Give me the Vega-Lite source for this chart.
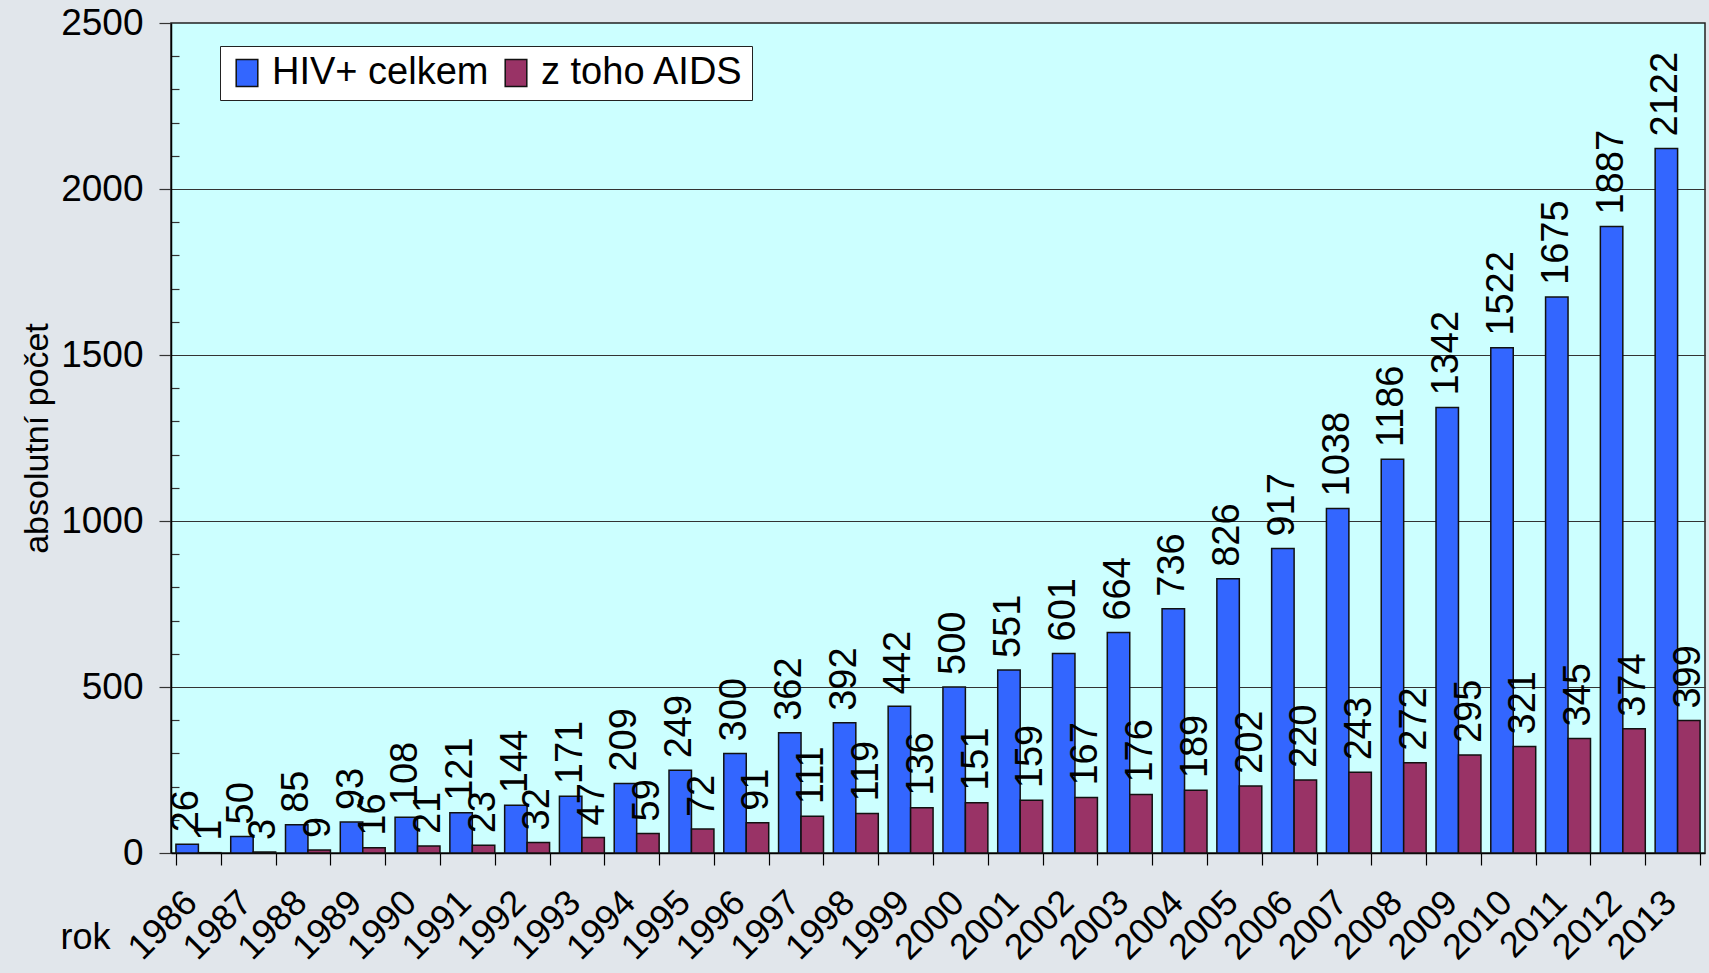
{
  "$schema": "https://vega.github.io/schema/vega-lite/v6.json",
  "width": 1534,
  "height": 830,
  "autosize": {"type": "none"},
  "padding": {"left": 171, "top": 23, "right": 4, "bottom": 120},
  "background": "#e1e6eb",
  "config": {
    "view": {"fill": "#ccffff", "stroke": "#222222", "strokeWidth": 1.5},
    "font": "Liberation Sans"
  },
  "data": {
    "values": [
      {"year": "1986", "series": "HIV+ celkem", "value": 26},
      {"year": "1987", "series": "HIV+ celkem", "value": 50},
      {"year": "1988", "series": "HIV+ celkem", "value": 85},
      {"year": "1989", "series": "HIV+ celkem", "value": 93},
      {"year": "1990", "series": "HIV+ celkem", "value": 108},
      {"year": "1991", "series": "HIV+ celkem", "value": 121},
      {"year": "1992", "series": "HIV+ celkem", "value": 144},
      {"year": "1993", "series": "HIV+ celkem", "value": 171},
      {"year": "1994", "series": "HIV+ celkem", "value": 209},
      {"year": "1995", "series": "HIV+ celkem", "value": 249},
      {"year": "1996", "series": "HIV+ celkem", "value": 300},
      {"year": "1997", "series": "HIV+ celkem", "value": 362},
      {"year": "1998", "series": "HIV+ celkem", "value": 392},
      {"year": "1999", "series": "HIV+ celkem", "value": 442},
      {"year": "2000", "series": "HIV+ celkem", "value": 500},
      {"year": "2001", "series": "HIV+ celkem", "value": 551},
      {"year": "2002", "series": "HIV+ celkem", "value": 601},
      {"year": "2003", "series": "HIV+ celkem", "value": 664},
      {"year": "2004", "series": "HIV+ celkem", "value": 736},
      {"year": "2005", "series": "HIV+ celkem", "value": 826},
      {"year": "2006", "series": "HIV+ celkem", "value": 917},
      {"year": "2007", "series": "HIV+ celkem", "value": 1038},
      {"year": "2008", "series": "HIV+ celkem", "value": 1186},
      {"year": "2009", "series": "HIV+ celkem", "value": 1342},
      {"year": "2010", "series": "HIV+ celkem", "value": 1522},
      {"year": "2011", "series": "HIV+ celkem", "value": 1675},
      {"year": "2012", "series": "HIV+ celkem", "value": 1887},
      {"year": "2013", "series": "HIV+ celkem", "value": 2122},
      {"year": "1986", "series": "z toho AIDS", "value": 1},
      {"year": "1987", "series": "z toho AIDS", "value": 3},
      {"year": "1988", "series": "z toho AIDS", "value": 9},
      {"year": "1989", "series": "z toho AIDS", "value": 16},
      {"year": "1990", "series": "z toho AIDS", "value": 21},
      {"year": "1991", "series": "z toho AIDS", "value": 23},
      {"year": "1992", "series": "z toho AIDS", "value": 32},
      {"year": "1993", "series": "z toho AIDS", "value": 47},
      {"year": "1994", "series": "z toho AIDS", "value": 59},
      {"year": "1995", "series": "z toho AIDS", "value": 72},
      {"year": "1996", "series": "z toho AIDS", "value": 91},
      {"year": "1997", "series": "z toho AIDS", "value": 111},
      {"year": "1998", "series": "z toho AIDS", "value": 119},
      {"year": "1999", "series": "z toho AIDS", "value": 136},
      {"year": "2000", "series": "z toho AIDS", "value": 151},
      {"year": "2001", "series": "z toho AIDS", "value": 159},
      {"year": "2002", "series": "z toho AIDS", "value": 167},
      {"year": "2003", "series": "z toho AIDS", "value": 176},
      {"year": "2004", "series": "z toho AIDS", "value": 189},
      {"year": "2005", "series": "z toho AIDS", "value": 202},
      {"year": "2006", "series": "z toho AIDS", "value": 220},
      {"year": "2007", "series": "z toho AIDS", "value": 243},
      {"year": "2008", "series": "z toho AIDS", "value": 272},
      {"year": "2009", "series": "z toho AIDS", "value": 295},
      {"year": "2010", "series": "z toho AIDS", "value": 321},
      {"year": "2011", "series": "z toho AIDS", "value": 345},
      {"year": "2012", "series": "z toho AIDS", "value": 374},
      {"year": "2013", "series": "z toho AIDS", "value": 399}
    ]
  },
  "encoding": {
    "x": {
      "field": "year",
      "type": "ordinal",
      "scale": {"paddingInner": 0.18, "paddingOuter": 0.09},
      "axis": {
        "title": "rok",
        "titleFontSize": 36,
        "titleFontWeight": "normal",
        "titleColor": "#000000",
        "titleX": -111,
        "titleY": 95,
        "titleAlign": "left",
        "titleBaseline": "alphabetic",
        "titleAngle": 0,
        "labelAngle": -45,
        "labelAlign": "right",
        "labelBaseline": "bottom",
        "labelFontSize": 36,
        "labelColor": "#000000",
        "labelPadding": 45,
        "labelOffset": 6,
        "tickBand": "extent",
        "tickSize": 12,
        "tickColor": "#000000",
        "tickWidth": 1.2,
        "domainColor": "#000000",
        "domainWidth": 1.5,
        "grid": false
      }
    },
    "xOffset": {"field": "series", "sort": ["HIV+ celkem", "z toho AIDS"]},
    "y": {
      "field": "value",
      "type": "quantitative",
      "scale": {"domain": [0, 2500], "nice": false},
      "axis": {
        "title": "absolutní počet",
        "titleFontSize": 34,
        "titleFontWeight": "normal",
        "titleColor": "#000000",
        "titlePadding": 6,
        "values": [0, 100, 200, 300, 400, 500, 600, 700, 800, 900, 1000, 1100, 1200, 1300, 1400, 1500, 1600, 1700, 1800, 1900, 2000, 2100, 2200, 2300, 2400, 2500],
        "format": "d",
        "labelExpr": "datum.value % 500 === 0 ? datum.label : ''",
        "labelFontSize": 37,
        "labelColor": "#000000",
        "labelPadding": 16,
        "tickSize": {"condition": {"test": "datum.value % 500 !== 0", "value": -8}, "value": 12},
        "tickColor": "#333333",
        "tickWidth": 1.2,
        "domainColor": "#000000",
        "domainWidth": 1.5,
        "grid": true,
        "gridColor": "#333333",
        "gridWidth": 1,
        "gridOpacity": {"condition": {"test": "datum.value % 500 === 0 && datum.value > 0 && datum.value < 2500", "value": 1}, "value": 0}
      }
    }
  },
  "layer": [
    {
      "mark": {"type": "bar", "stroke": "#111111", "strokeWidth": 1.5},
      "encoding": {
        "color": {
          "field": "series",
          "type": "nominal",
          "scale": {"domain": ["HIV+ celkem", "z toho AIDS"], "range": ["#3366ff", "#993366"]},
          "legend": {
            "title": null,
            "orient": "none",
            "legendX": 49,
            "legendY": 23,
            "direction": "horizontal",
            "fillColor": "#ffffff",
            "strokeColor": "#222222",
            "padding": 8,
            "symbolType": "M-0.8,-1H0.8V1H-0.8Z",
            "symbolSize": 729,
            "symbolStrokeColor": "#111111",
            "symbolStrokeWidth": 1.5,
            "symbolOpacity": 1,
            "labelFontSize": 38,
            "labelColor": "#000000",
            "labelOffset": 6,
            "columnPadding": 8,
            "labelLimit": 400
          }
        }
      }
    },
    {
      "mark": {"type": "text", "angle": -90, "align": "left", "baseline": "middle", "dx": 12, "fontSize": 38, "color": "#000000"},
      "encoding": {
        "text": {"field": "value", "type": "quantitative", "format": "d"}
      }
    }
  ]
}
